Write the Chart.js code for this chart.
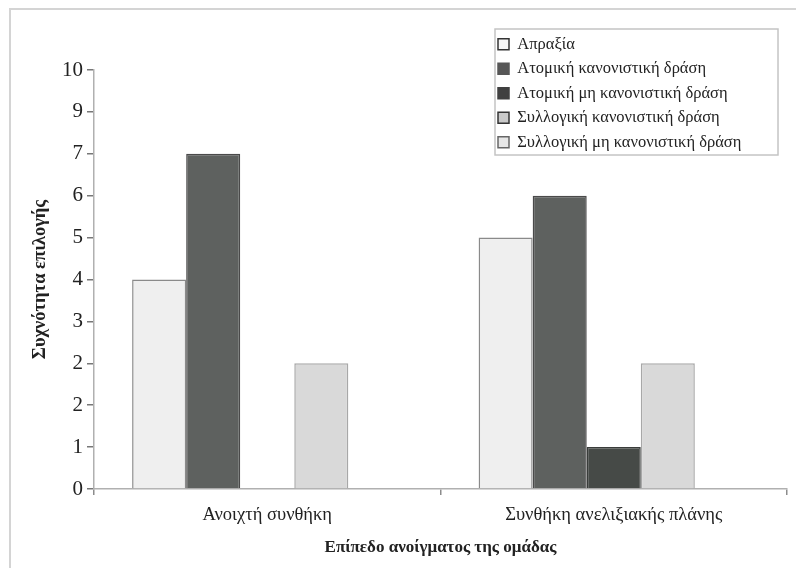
<!DOCTYPE html>
<html lang="el">
<head>
<meta charset="utf-8">
<title>Συχνότητα επιλογής</title>
<script src="https://cdn.jsdelivr.net/npm/chart.js@4.4.1/dist/chart.umd.min.js"></script>
<style>
  html, body { margin: 0; padding: 0; background: #fff; }
  #wrap { position: relative; width: 796px; height: 568px; }
  #frame {
    position: absolute; left: 9px; top: 8px; right: 0; bottom: 0;
    border-top: 2px solid #d4d4d4; border-left: 2px solid #d4d4d4;
    pointer-events: none;
  }
</style>
</head>
<body>
<div id="wrap">
  <canvas id="chart" width="796" height="568"></canvas>
  <div id="frame"></div>
</div>
<script>
// Categories and series
const categories = ['Ανοιχτή συνθήκη', 'Συνθήκη ανελιξιακής πλάνης'];
const seriesNames = [
    'Απραξία',
    'Ατομική κανονιστική δράση',
    'Ατομική μη κανονιστική δράση',
    'Συλλογική κανονιστική δράση',
    'Συλλογική μη κανονιστική δράση'
];
const inaction = [5, 6];
const indivNormative = [8, 7];
const indivNonNormative = [0, 1];
const collNormative = [3, 3];
const collNonNormative = [0, 0];

// Tick labels as printed on the y axis
const yTickLabels = ['0', '1', '2', '2', '3', '4', '5', '6', '7', '9', '10'];

const serif = "'Liberation Serif', 'DejaVu Serif', serif";

// bar fills / legend markers
const barFills = ['#efefef', '#5e615f', '#464a47', '#d9d9d9', '#f2f2f2'];
const barBorders = ['#8a8a8a', '#4a4a4a', '#3a3d3b', '#a8a8a8', '#c8c8c8'];
const markerFills = ['#f6f6f6', '#575757', '#404040', '#c9c9c9', '#e6e6e6'];
const markerBorders = ['#333', '#575757', '#404040', '#333', '#666'];

const seriesValues = [inaction, indivNormative, indivNonNormative, collNormative, collNonNormative];

// move the legend into the top right corner and give it a frame
const legendBox = {
    id: 'legendBox',
    beforeDraw(chart) {
        const lg = chart.legend;
        const w = lg.width;
        lg.left = 490;
        lg.right = 490 + w;
        lg.top = 28;
    },
    afterDraw(chart) {
        const lg = chart.legend;
        const ctx = chart.ctx;
        ctx.save();
        ctx.strokeStyle = '#c4c4c4';
        ctx.lineWidth = 1.5;
        ctx.strokeRect(lg.left + 5, lg.top + 1, 283, 126);
        ctx.restore();
    }
};

new Chart(document.getElementById('chart'), {
    type: 'bar',
    data: {
        labels: categories,
        datasets: seriesNames.map((name, i) => ({
            label: name,
            data: seriesValues[i],
            backgroundColor: barFills[i],
            borderColor: barBorders[i],
            borderWidth: 1.5,
            borderSkipped: 'start',
            categoryPercentage: 0.78,
            barPercentage: 1.0
        }))
    },
    options: {
        responsive: false,
        animation: false,
        layout: { padding: { top: 70, right: 9, bottom: 10, left: 0 } },
        plugins: {
            tooltip: { enabled: false },
            legend: {
                position: 'chartArea',
                align: 'start',
                labels: {
                    font: { family: serif, size: 16.5 },
                    color: '#222',
                    boxWidth: 11,
                    boxHeight: 11,
                    padding: 8,
                    generateLabels(chart) {
                        return chart.data.datasets.map((ds, i) => ({
                            text: ds.label,
                            fillStyle: markerFills[i],
                            strokeStyle: markerBorders[i],
                            lineWidth: 1.5,
                            fontColor: '#222',
                            datasetIndex: i
                        }));
                    }
                }
            }
        },
        scales: {
            x: {
                offset: true,
                grid: {
                    offset: true,
                    drawOnChartArea: false,
                    tickLength: 6,
                    color: '#8c8c8c',
                    lineWidth: 1.5
                },
                border: { color: '#b0b0b0', width: 1.5 },
                ticks: {
                    font: { family: serif, size: 18.5 },
                    color: '#222',
                    padding: 9,
                    maxRotation: 0
                },
                title: {
                    display: true,
                    text: 'Επίπεδο ανοίγματος της ομάδας',
                    font: { family: serif, size: 17, weight: 'bold' },
                    color: '#222',
                    padding: { top: 0, bottom: 0 }
                },
                afterFit(scale) { scale.height = 69; }
            },
            y: {
                min: 0,
                max: 10,
                grid: {
                    drawOnChartArea: false,
                    tickLength: 7,
                    color: '#777',
                    lineWidth: 1.5
                },
                border: { color: '#b0b0b0', width: 1.5 },
                ticks: {
                    stepSize: 1,
                    font: { family: serif, size: 21 },
                    color: '#222',
                    padding: 4,
                    callback: (value, index) => yTickLabels[index]
                },
                title: {
                    display: true,
                    text: 'Συχνότητα επιλογής',
                    font: { family: serif, size: 18.5, weight: 'bold' },
                    color: '#222',
                    padding: { top: 29, bottom: 0 }
                },
                afterFit(scale) { scale.width = 94; }
            }
        }
    },
    plugins: [legendBox]
});
</script>
</body>
</html>
